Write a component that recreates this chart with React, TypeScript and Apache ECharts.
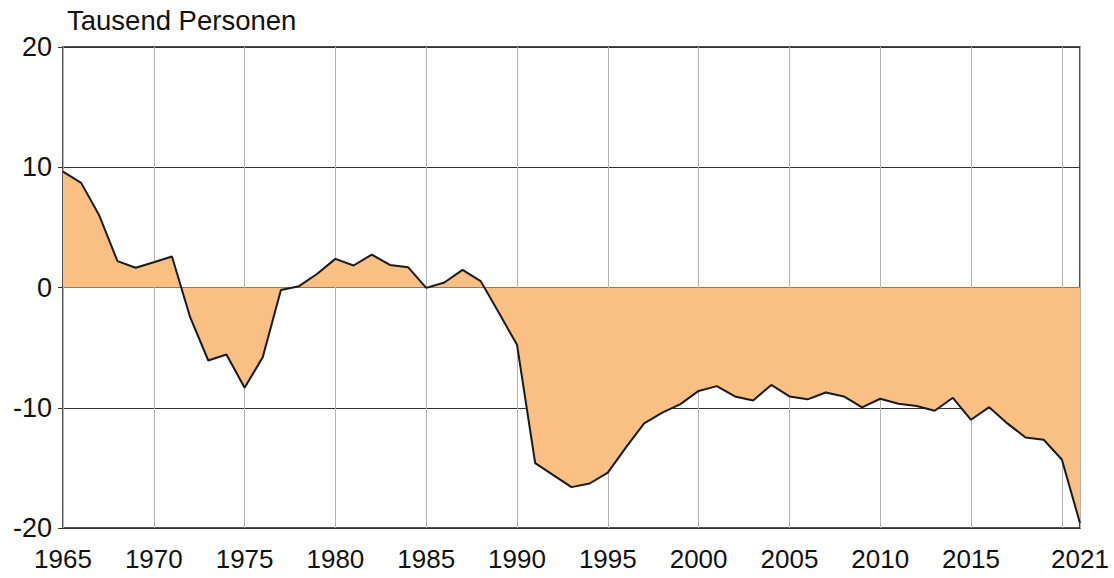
import React, { useEffect, useRef } from "react";
import * as echarts from "echarts";

const years: number[] = [
  1965, 1966, 1967, 1968, 1969, 1970, 1971, 1972, 1973, 1974,
  1975, 1976, 1977, 1978, 1979, 1980, 1981, 1982, 1983, 1984,
  1985, 1986, 1987, 1988, 1989, 1990, 1991, 1992, 1993, 1994,
  1995, 1996, 1997, 1998, 1999, 2000, 2001, 2002, 2003, 2004,
  2005, 2006, 2007, 2008, 2009, 2010, 2011, 2012, 2013, 2014,
  2015, 2016, 2017, 2018, 2019, 2020, 2021,
];

const values: number[] = [
  9.64, 8.7, 5.98, 2.19, 1.64, 2.1, 2.58, -2.47, -6.07, -5.57,
  -8.34, -5.79, -0.2, 0.11, 1.14, 2.38, 1.83, 2.74, 1.88, 1.69,
  -0.03, 0.42, 1.47, 0.53, -2.1, -4.77, -14.6, -15.6, -16.6, -16.3,
  -15.4, -13.3, -11.3, -10.4, -9.7, -8.6, -8.2, -9.06, -9.4, -8.1,
  -9.06, -9.3, -8.73, -9.06, -9.97, -9.25, -9.67, -9.86, -10.25, -9.17,
  -11.0, -9.95, -11.3, -12.47, -12.66, -14.3, -19.6,
];

const yTicks = { min: -20, max: 20, interval: 10 };
const unitLabel = "Tausend Personen";

const FONT = "'Liberation Sans', Arial, sans-serif";

export default function App() {
  const ref = useRef<HTMLDivElement>(null);
  useEffect(() => {
    if (!ref.current) return;
    const chart = echarts.init(ref.current, undefined, { renderer: "svg" });
    const data = years.map((y, i) => [y, values[i]]);
    chart.setOption({
      animation: false,
      backgroundColor: "#ffffff",
      textStyle: { fontFamily: FONT },
      grid: {
        left: 63,
        right: 34,
        top: 47,
        bottom: 50,
        show: true,
        borderColor: "#1a1a1a",
        borderWidth: 1.5,
        backgroundColor: "transparent",
      },
      graphic: [
        {
          type: "text",
          left: 67,
          top: 6,
          style: {
            text: unitLabel,
            fontSize: 27.5,
            fontFamily: FONT,
            fill: "#111",
          },
        },
      ],
      xAxis: {
        type: "value",
        min: years[0],
        max: years[years.length - 1],
        interval: 5,
        axisLine: { show: false },
        axisTick: { show: false },
        splitLine: { show: true, lineStyle: { color: "#b4b4b4", width: 1 } },
        axisLabel: {
          interval: 0,
          margin: 18,
          fontSize: 26,
          color: "#111",
          fontFamily: FONT,
          showMaxLabel: true,
          showMinLabel: true,
          hideOverlap: false,
          formatter: (v: number) => (v === 2020 ? "" : String(v)),
        },
      },
      yAxis: {
        type: "value",
        min: yTicks.min,
        max: yTicks.max,
        interval: yTicks.interval,
        axisLine: { show: false },
        axisTick: { show: true, length: 5, lineStyle: { color: "#333" } },
        splitLine: { show: true, lineStyle: { color: "#333", width: 1 } },
        axisLabel: {
          margin: 11,
          fontSize: 27,
          color: "#111",
          fontFamily: FONT,
        },
      },
      series: [
        {
          type: "line",
          data,
          symbol: "none",
          lineStyle: { color: "#1a1a1a", width: 2 },
          areaStyle: { color: "#F9BF83", opacity: 1, origin: 0 },
          z: 3,
        },
      ],
    });
    return () => chart.dispose();
  }, []);
  return (
    <div
      ref={ref}
      style={{ position: "fixed", left: 0, top: 0, width: 1114, height: 578 }}
    />
  );
}
